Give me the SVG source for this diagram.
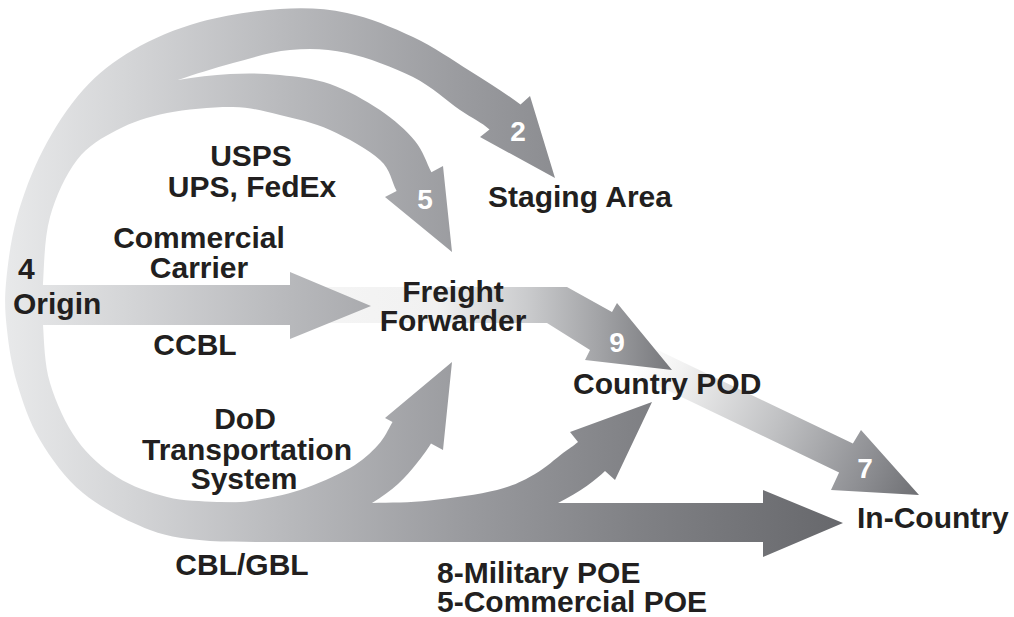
<svg xmlns="http://www.w3.org/2000/svg" width="1014" height="617" viewBox="0 0 1014 617">
<defs>
<linearGradient id="gMain" gradientUnits="userSpaceOnUse" x1="0" y1="0" x2="850" y2="0">
<stop offset="0" stop-color="#e9eaeb"/>
<stop offset="0.15" stop-color="#d4d5d7"/>
<stop offset="0.33" stop-color="#b9babd"/>
<stop offset="0.55" stop-color="#999a9e"/>
<stop offset="0.75" stop-color="#808185"/>
<stop offset="1" stop-color="#66676b"/>
</linearGradient>
<linearGradient id="g9" gradientUnits="userSpaceOnUse" x1="310" y1="0" x2="672" y2="0">
<stop offset="0" stop-color="#f5f5f5"/>
<stop offset="0.35" stop-color="#f1f1f1"/>
<stop offset="0.6" stop-color="#cacbcd"/>
<stop offset="0.8" stop-color="#a2a3a6"/>
<stop offset="1" stop-color="#76777b"/>
</linearGradient>
<linearGradient id="g7" gradientUnits="userSpaceOnUse" x1="634" y1="357" x2="919" y2="495">
<stop offset="0" stop-color="#ffffff"/>
<stop offset="0.15" stop-color="#f2f2f2"/>
<stop offset="0.5" stop-color="#c0c1c3"/>
<stop offset="0.8" stop-color="#909195"/>
<stop offset="1" stop-color="#6e6f73"/>
</linearGradient>
<style>
.m{fill:url(#gMain);}
.t{font-family:"Liberation Sans",Arial,Helvetica,sans-serif;font-weight:bold;font-size:30px;fill:#221f20;}
.d{font-family:"Liberation Sans",Arial,Helvetica,sans-serif;font-weight:bold;font-size:28px;fill:#ffffff;text-anchor:middle;}
.c{text-anchor:middle;}
</style>
</defs>
<g id="connectors">
<path id="arrow-2-main" class="m" d="M 555,178 L 530,96 L 520.5,104.6 C 505.5,93.1 487.9,82.3 470,71 C 452.1,59.7 433.5,46.7 413,37 C 392.5,27.3 369.2,17.7 347,13 C 324.8,8.3 304.5,7.5 280,9 C 255.5,10.5 224.5,15.2 200,22 C 175.5,28.8 152.5,38.7 133,50 C 113.5,61.3 98,73.3 83,90 C 68,106.7 54,128.8 43,150 C 32,171.2 23.2,194.8 17,217 C 10.8,239.2 7.7,264.2 6,283 C 4.3,301.8 5.2,313.3 7,330 C 8.8,346.7 11.5,364.7 17,383 C 22.5,401.3 29,421.7 40,440 C 51,458.3 64.7,478 83,493 C 101.3,508 128.8,522 150,530 C 171.2,538 188.3,539 210,541 C 232,542 257,542 280,542 L 763,542 L 763,557 L 843,523 L 763,490 L 763,503 L 260,503 C 244.5,502.8 232.5,503 217,502 C 201.5,501 183.7,501.2 167,497 C 150.3,492.8 132,486.5 117,477 C 102,467.5 88.2,455.7 77,440 C 65.8,424.3 55.7,402.2 50,383 C 44.3,363.8 44.2,341.7 43,325 C 41.8,308.3 41.8,301 43,283 C 44.2,265 44.3,237.5 50,217 C 55.7,196.5 65.8,174.5 77,160 C 88.2,145.5 102,137.8 117,130 L 178,80 C 193.5,74.7 214.3,68 233,63 C 251.7,58 271,51.7 290,50 C 309,48.3 326.5,48.5 347,53 C 367.5,57.5 394.2,67.5 413,77 C 431.8,86.5 447.3,101.3 460,110 C 472.8,118.7 481.4,122.3 489.5,129.4 L 480,137 Z"/>
<path id="arrow-5" class="m" d="M 178,80 C 194.7,77.3 213,74.8 230,74 C 247,73.2 263.3,73.3 280,75 C 296.7,76.7 313.3,78.2 330,84 C 346.7,89.8 365.8,100.5 380,110 C 394.2,119.5 406.4,130.6 415,141 C 423.6,151.4 426.3,162.6 431.4,172.2 L 443,166 L 452,252 L 385,197 L 396.6,191 C 391.4,181.4 391.1,170.2 380,160 C 368.9,149.8 346.7,137.5 330,130 C 313.3,122.5 296.2,118.8 280,115 C 263.8,111.2 251.8,107.3 233,107 C 214.2,106.7 186.3,109.2 167,113 C 147.7,116.8 132,122.2 117,130 L 150,75 Z"/>
<path id="arrow-dod" class="m" d="M 372,503 C 381.7,497 390.5,490.7 398,484 C 405.5,477.3 411.5,469.7 417,463 C 422.5,456.3 426.3,451.3 431,443.6 L 443,450 L 452,362 L 385,418 L 392.5,422 C 387.75,430.25 385.1,437.3 378,445 C 370.9,452.7 363,460.5 350,468 C 337,475.5 316.7,484.5 300,490 C 283.3,495.5 263.8,499 250,501 C 236.2,503 228.7,502.2 217,502 L 217,515 L 372,515 Z"/>
<path id="arrow-pod" class="m" d="M 372,503 C 390.3,502.6 409.2,502.7 430,500.5 C 450.8,498.3 479.5,494.4 497,490 C 514.5,485.6 524,480.2 535,474 C 546,467.8 555.8,458.3 563,453 C 570.2,447.7 572.4,446.7 578,442 L 570,432 L 652,402 L 615,480 L 605,471 C 597,479 580,492 558,503 L 540,512 L 372,512 Z"/>
<path id="arrow-7" fill="url(#g7)" d="M 640.9,342.1 L 852.9,443.6 L 861,430 L 919,495 L 831,490 L 839.1,472.4 L 627.1,370.9 Z"/>
<path id="arrow-9" fill="url(#g9)" d="M 310,287 L 567,287 L 612,312 L 617,303 L 672,370 L 585,360 L 590,350 L 547,323 L 310,323 Z"/>
<path id="arrow-origin" class="m" d="M 30,285 L 290,285 L 290,272 L 371,306 L 290,339 L 290,325 L 30,325 Z"/>
</g>
<g id="node-origin"><text class="t" x="18" y="279">4</text><text class="t" x="13" y="314">Origin</text></g>
<g id="node-usps"><text class="t c" x="251" y="166">USPS</text><text class="t c" x="252" y="197">UPS, FedEx</text></g>
<g id="node-commercial"><text class="t c" x="199" y="248">Commercial</text><text class="t c" x="199" y="278">Carrier</text></g>
<g id="node-ccbl"><text class="t c" x="195" y="355">CCBL</text></g>
<g id="node-dod"><text class="t c" x="245" y="429">DoD</text><text class="t c" x="247" y="460">Transportation</text><text class="t c" x="244" y="489">System</text></g>
<g id="node-cblgbl"><text class="t c" x="242" y="575">CBL/GBL</text></g>
<g id="node-poe"><text class="t" x="437" y="583">8-Military POE</text><text class="t" x="437" y="612">5-Commercial POE</text></g>
<g id="node-staging"><text class="t" x="488" y="207">Staging Area</text><text class="d" x="518" y="141">2</text></g>
<g id="node-freight"><text class="t c" x="453" y="302">Freight</text><text class="t c" x="453" y="331">Forwarder</text><text class="d" x="425" y="209">5</text></g>
<g id="node-pod"><text class="t" x="573" y="394">Country POD</text><text class="d" x="617" y="352">9</text></g>
<g id="node-incountry"><text class="t" x="857" y="528">In-Country</text><text class="d" x="865" y="478">7</text></g>
</svg>
